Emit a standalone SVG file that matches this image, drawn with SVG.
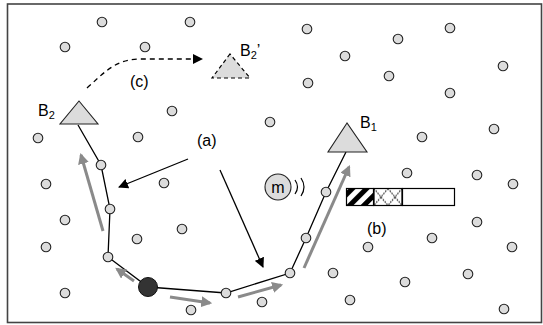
<svg xmlns="http://www.w3.org/2000/svg" width="543" height="325" viewBox="0 0 543 325">
  <style>
    .node { fill: #dcdcdc; stroke: #222; stroke-width: 1.1; }
    .base { fill: #dcdcdc; stroke: #222; stroke-width: 1.1; }
    .route { fill: none; stroke: #000; stroke-width: 1.3; }
    .move { fill: none; stroke: #8a8a8a; stroke-width: 3; }
    .ptr { fill: none; stroke: #000; stroke-width: 1.3; }
    .lbl { font-family: "Liberation Sans", Arial, sans-serif; font-size: 16px; fill: #000; }
    .sub { font-size: 11px; }
  </style>
  <defs>
    <marker id="headBlack" viewBox="0 0 10 10" refX="9" refY="5" markerWidth="10" markerHeight="10" markerUnits="userSpaceOnUse" orient="auto">
      <path d="M0,0 L10,5 L0,10 z" fill="#000"/>
    </marker>
    <marker id="headGray" viewBox="0 0 10 10" refX="8" refY="5" markerWidth="11" markerHeight="11" markerUnits="userSpaceOnUse" orient="auto">
      <path d="M0,0 L10,5 L0,10 z" fill="#8a8a8a"/>
    </marker>
    <pattern id="stripes" patternUnits="userSpaceOnUse" width="10" height="10" patternTransform="rotate(45)">
      <rect x="0" y="0" width="5" height="10" fill="#000"/>
    </pattern>
    <pattern id="lattice" patternUnits="userSpaceOnUse" x="374" y="188.5" width="14" height="17">
      <path d="M0,0 L14,17 M14,0 L0,17" stroke="#111" stroke-width="1.1" stroke-dasharray="1.6,1.2" fill="none"/>
    </pattern>
  </defs>

  <!-- frame -->
  <rect x="7.5" y="4" width="534" height="318.5" fill="#fff" stroke="#444" stroke-width="1.6"/>

  <!-- connectors -->
  <g id="connectors">
    <!-- routing path between the two sinks -->
    <polyline class="route" points="78,125 101,165 110,209 108,257 148,287 226,293 290,273 306,238 326,192 346,152"/>
    <!-- sink relocation (c) -->
    <path d="M87,88 C103,74 114,60 138,59 L202,59" fill="none" stroke="#000" stroke-width="1.3" stroke-dasharray="5,4" marker-end="url(#headBlack)"/>
    <!-- (a) pointers -->
    <line class="ptr" x1="188" y1="159" x2="119" y2="187" marker-end="url(#headBlack)"/>
    <line class="ptr" x1="220" y1="170" x2="263" y2="267" marker-end="url(#headBlack)"/>
    <!-- data flow along the route -->
    <line class="move" x1="103" y1="231" x2="81" y2="155" marker-end="url(#headGray)"/>
    <line class="move" x1="134" y1="281" x2="117" y2="269" marker-end="url(#headGray)"/>
    <line class="move" x1="170" y1="297" x2="210" y2="303" marker-end="url(#headGray)"/>
    <line class="move" x1="238" y1="297" x2="281" y2="285" marker-end="url(#headGray)"/>
    <line class="move" x1="304" y1="268" x2="349" y2="167" marker-end="url(#headGray)"/>
  </g>

  <!-- sensor nodes -->
  <g id="nodes">
    <circle class="node" cx="102" cy="22" r="4.8"/>
    <circle class="node" cx="190" cy="22" r="4.8"/>
    <circle class="node" cx="307" cy="29" r="4.8"/>
    <circle class="node" cx="450" cy="28" r="4.8"/>
    <circle class="node" cx="398" cy="39" r="4.8"/>
    <circle class="node" cx="65" cy="47" r="4.8"/>
    <circle class="node" cx="145" cy="47" r="4.8"/>
    <circle class="node" cx="345" cy="56" r="4.8"/>
    <circle class="node" cx="503" cy="66" r="4.8"/>
    <circle class="node" cx="389" cy="76" r="4.8"/>
    <circle class="node" cx="308" cy="83" r="4.8"/>
    <circle class="node" cx="450" cy="93" r="4.8"/>
    <circle class="node" cx="172" cy="111" r="4.8"/>
    <circle class="node" cx="270" cy="122" r="4.8"/>
    <circle class="node" cx="494" cy="129" r="4.8"/>
    <circle class="node" cx="422" cy="137" r="4.8"/>
    <circle class="node" cx="138" cy="137" r="4.8"/>
    <circle class="node" cx="38" cy="138" r="4.8"/>
    <circle class="node" cx="46" cy="184" r="4.8"/>
    <circle class="node" cx="164" cy="183" r="4.8"/>
    <circle class="node" cx="407" cy="173" r="4.8"/>
    <circle class="node" cx="477" cy="175" r="4.8"/>
    <circle class="node" cx="513" cy="184" r="4.8"/>
    <circle class="node" cx="65" cy="220" r="4.8"/>
    <circle class="node" cx="182" cy="229" r="4.8"/>
    <circle class="node" cx="477" cy="222" r="4.8"/>
    <circle class="node" cx="137" cy="239" r="4.8"/>
    <circle class="node" cx="432" cy="238" r="4.8"/>
    <circle class="node" cx="46" cy="247" r="4.8"/>
    <circle class="node" cx="368" cy="247" r="4.8"/>
    <circle class="node" cx="512" cy="247" r="4.8"/>
    <circle class="node" cx="333" cy="273" r="4.8"/>
    <circle class="node" cx="468" cy="274" r="4.8"/>
    <circle class="node" cx="405" cy="282" r="4.8"/>
    <circle class="node" cx="65" cy="293" r="4.8"/>
    <circle class="node" cx="262" cy="302" r="4.8"/>
    <circle class="node" cx="350" cy="300" r="4.8"/>
    <circle class="node" cx="191" cy="310" r="4.8"/>
    <circle class="node" cx="504" cy="309" r="4.8"/>
  </g>

  <!-- relay nodes on the route -->
  <g id="route-nodes">
    <circle class="node" cx="101" cy="165" r="4.8"/>
    <circle class="node" cx="110" cy="209" r="4.8"/>
    <circle class="node" cx="108" cy="257" r="4.8"/>
    <circle class="node" cx="226" cy="293" r="4.8"/>
    <circle class="node" cx="290" cy="273" r="4.8"/>
    <circle class="node" cx="306" cy="238" r="4.8"/>
    <circle class="node" cx="326" cy="192" r="4.8"/>
  </g>

  <!-- source node -->
  <g id="source">
    <circle cx="148" cy="287" r="9.5" fill="#333" stroke="#111" stroke-width="1"/>
  </g>

  <!-- sink B2 -->
  <g id="sink-b2">
    <polygon class="base" points="79,101 60,124 98,124"/>
    <text class="lbl" x="38" y="116">B<tspan class="sub" dy="3">2</tspan></text>
  </g>

  <!-- sink B2' (new position) -->
  <g id="sink-b2-new">
    <polygon points="230,54 212,78 250,78" fill="#dcdcdc" stroke="#000" stroke-width="1.2" stroke-dasharray="4,3"/>
    <text class="lbl" x="240" y="56">B<tspan class="sub" dy="3">2</tspan><tspan dy="-3">’</tspan></text>
  </g>

  <!-- sink B1 -->
  <g id="sink-b1">
    <polygon class="base" points="347,123 328,152 367,152"/>
    <text class="lbl" x="360" y="128">B<tspan class="sub" dy="3">1</tspan></text>
  </g>

  <!-- mobile node m -->
  <g id="mobile">
    <circle cx="278" cy="187" r="13" fill="#dcdcdc" stroke="#222" stroke-width="1.1"/>
    <text class="lbl" x="278" y="192.5" text-anchor="middle" font-size="17">m</text>
    <path d="M295,180 Q300,187 295,194" fill="none" stroke="#000" stroke-width="1.2"/>
    <path d="M301,178 Q307,187 301,196" fill="none" stroke="#000" stroke-width="1.2"/>
  </g>

  <!-- buffer (b) -->
  <g id="buffer">
    <rect x="346.5" y="188.5" width="27" height="17" fill="url(#stripes)" stroke="#000" stroke-width="1.2"/>
    <rect x="374" y="188.5" width="28" height="17" fill="url(#lattice)" stroke="#000" stroke-width="1.2"/>
    <rect x="402.5" y="188.5" width="52" height="17" fill="#fff" stroke="#000" stroke-width="1.2"/>
  </g>

  <!-- labels -->
  <g id="labels">
    <text class="lbl" x="130" y="87">(c)</text>
    <text class="lbl" x="197" y="146">(a)</text>
    <text class="lbl" x="367" y="234">(b)</text>
  </g>
</svg>
